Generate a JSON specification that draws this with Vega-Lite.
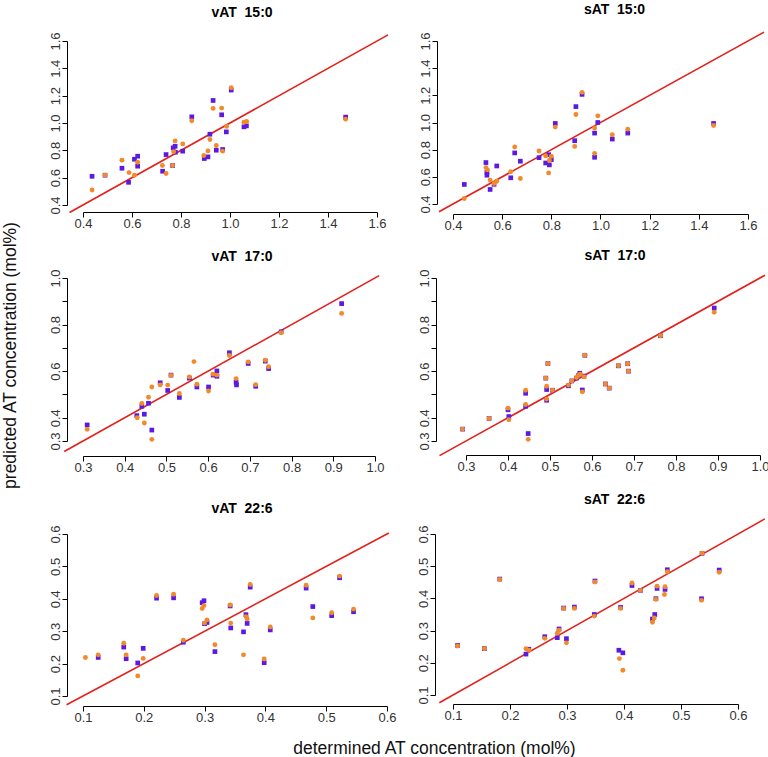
{
"$schema": "https://vega.github.io/schema/vega-lite/v6.json",
"padding": {"left": 0, "top": 2, "right": 5, "bottom": 5},
"background": "white",
"config": {
  "view": {"stroke": null},
  "axis": {"grid": false, "domainColor": "#000", "tickColor": "#000", "labelColor": "#333", "labelFont": "Liberation Sans", "labelFontSize": 13, "tickSize": 5, "labelPadding": 0, "domainWidth": 1, "tickWidth": 1, "titleFont": "Liberation Sans", "titleFontSize": 17.5, "titleFontWeight": "normal", "titleColor": "#111", "labelOverlap": false, "labelFlush": false},
  "title": {"font": "Liberation Sans", "fontSize": 14, "fontWeight": "bold", "color": "#000"}
},
"datasets": {
"pts": [
{"p":"v15","s":"A","x":0.437,"y":0.610},{"p":"v15","s":"A","x":0.490,"y":0.618},{"p":"v15","s":"A","x":0.559,"y":0.669},{"p":"v15","s":"A","x":0.586,"y":0.566},{"p":"v15","s":"A","x":0.610,"y":0.735},{"p":"v15","s":"A","x":0.623,"y":0.757},{"p":"v15","s":"A","x":0.623,"y":0.684},{"p":"v15","s":"A","x":0.725,"y":0.647},{"p":"v15","s":"A","x":0.739,"y":0.769},{"p":"v15","s":"A","x":0.766,"y":0.689},{"p":"v15","s":"A","x":0.768,"y":0.818},{"p":"v15","s":"A","x":0.776,"y":0.830},{"p":"v15","s":"A","x":0.777,"y":0.786},{"p":"v15","s":"A","x":0.807,"y":0.794},{"p":"v15","s":"A","x":0.844,"y":1.045},{"p":"v15","s":"A","x":0.895,"y":0.740},{"p":"v15","s":"A","x":0.910,"y":0.752},{"p":"v15","s":"A","x":0.918,"y":0.918},{"p":"v15","s":"A","x":0.931,"y":1.165},{"p":"v15","s":"A","x":0.944,"y":0.801},{"p":"v15","s":"A","x":0.966,"y":1.060},{"p":"v15","s":"A","x":0.970,"y":0.806},{"p":"v15","s":"A","x":0.985,"y":0.935},{"p":"v15","s":"A","x":1.005,"y":1.241},{"p":"v15","s":"A","x":1.057,"y":0.972},{"p":"v15","s":"A","x":1.067,"y":0.979},{"p":"v15","s":"A","x":1.472,"y":1.043},
{"p":"v15","s":"B","x":0.437,"y":0.510},{"p":"v15","s":"B","x":0.490,"y":0.618},{"p":"v15","s":"B","x":0.559,"y":0.728},{"p":"v15","s":"B","x":0.588,"y":0.637},{"p":"v15","s":"B","x":0.610,"y":0.618},{"p":"v15","s":"B","x":0.623,"y":0.713},{"p":"v15","s":"B","x":0.724,"y":0.689},{"p":"v15","s":"B","x":0.739,"y":0.630},{"p":"v15","s":"B","x":0.766,"y":0.689},{"p":"v15","s":"B","x":0.776,"y":0.869},{"p":"v15","s":"B","x":0.770,"y":0.790},{"p":"v15","s":"B","x":0.807,"y":0.847},{"p":"v15","s":"B","x":0.844,"y":1.016},{"p":"v15","s":"B","x":0.893,"y":0.762},{"p":"v15","s":"B","x":0.910,"y":0.796},{"p":"v15","s":"B","x":0.918,"y":0.879},{"p":"v15","s":"B","x":0.931,"y":1.107},{"p":"v15","s":"B","x":0.944,"y":0.835},{"p":"v15","s":"B","x":0.966,"y":1.109},{"p":"v15","s":"B","x":0.970,"y":0.794},{"p":"v15","s":"B","x":0.986,"y":0.975},{"p":"v15","s":"B","x":1.005,"y":1.258},{"p":"v15","s":"B","x":1.057,"y":1.006},{"p":"v15","s":"B","x":1.068,"y":1.011},{"p":"v15","s":"B","x":1.472,"y":1.028},
{"p":"s15","s":"A","x":0.446,"y":0.544},{"p":"s15","s":"A","x":0.534,"y":0.705},{"p":"s15","s":"A","x":0.538,"y":0.634},{"p":"s15","s":"A","x":0.538,"y":0.612},{"p":"s15","s":"A","x":0.551,"y":0.507},{"p":"s15","s":"A","x":0.567,"y":0.545},{"p":"s15","s":"A","x":0.578,"y":0.680},{"p":"s15","s":"A","x":0.635,"y":0.593},{"p":"s15","s":"A","x":0.651,"y":0.776},{"p":"s15","s":"A","x":0.674,"y":0.715},{"p":"s15","s":"A","x":0.750,"y":0.741},{"p":"s15","s":"A","x":0.777,"y":0.702},{"p":"s15","s":"A","x":0.789,"y":0.763},{"p":"s15","s":"A","x":0.792,"y":0.688},{"p":"s15","s":"A","x":0.800,"y":0.727},{"p":"s15","s":"A","x":0.816,"y":0.993},{"p":"s15","s":"A","x":0.895,"y":0.866},{"p":"s15","s":"A","x":0.900,"y":1.117},{"p":"s15","s":"A","x":0.925,"y":1.207},{"p":"s15","s":"A","x":0.976,"y":0.922},{"p":"s15","s":"A","x":0.976,"y":0.744},{"p":"s15","s":"A","x":0.989,"y":1.000},{"p":"s15","s":"A","x":1.048,"y":0.878},{"p":"s15","s":"A","x":1.111,"y":0.922},{"p":"s15","s":"A","x":1.460,"y":0.993},
{"p":"s15","s":"B","x":0.446,"y":0.441},{"p":"s15","s":"B","x":0.534,"y":0.668},{"p":"s15","s":"B","x":0.540,"y":0.651},{"p":"s15","s":"B","x":0.551,"y":0.576},{"p":"s15","s":"B","x":0.567,"y":0.551},{"p":"s15","s":"B","x":0.578,"y":0.568},{"p":"s15","s":"B","x":0.635,"y":0.637},{"p":"s15","s":"B","x":0.651,"y":0.820},{"p":"s15","s":"B","x":0.674,"y":0.588},{"p":"s15","s":"B","x":0.750,"y":0.790},{"p":"s15","s":"B","x":0.777,"y":0.754},{"p":"s15","s":"B","x":0.789,"y":0.629},{"p":"s15","s":"B","x":0.792,"y":0.720},{"p":"s15","s":"B","x":0.800,"y":0.751},{"p":"s15","s":"B","x":0.816,"y":0.966},{"p":"s15","s":"B","x":0.895,"y":0.824},{"p":"s15","s":"B","x":0.900,"y":1.059},{"p":"s15","s":"B","x":0.925,"y":1.222},{"p":"s15","s":"B","x":0.976,"y":0.959},{"p":"s15","s":"B","x":0.976,"y":0.773},{"p":"s15","s":"B","x":0.989,"y":1.049},{"p":"s15","s":"B","x":1.048,"y":0.910},{"p":"s15","s":"B","x":1.111,"y":0.951},{"p":"s15","s":"B","x":1.460,"y":0.978},
{"p":"v17","s":"A","x":0.310,"y":0.369},{"p":"v17","s":"A","x":0.429,"y":0.409},{"p":"v17","s":"A","x":0.441,"y":0.449},{"p":"v17","s":"A","x":0.447,"y":0.415},{"p":"v17","s":"A","x":0.457,"y":0.462},{"p":"v17","s":"A","x":0.465,"y":0.347},{"p":"v17","s":"A","x":0.485,"y":0.550},{"p":"v17","s":"A","x":0.503,"y":0.517},{"p":"v17","s":"A","x":0.511,"y":0.583},{"p":"v17","s":"A","x":0.531,"y":0.487},{"p":"v17","s":"A","x":0.555,"y":0.570},{"p":"v17","s":"A","x":0.573,"y":0.532},{"p":"v17","s":"A","x":0.601,"y":0.532},{"p":"v17","s":"A","x":0.612,"y":0.583},{"p":"v17","s":"A","x":0.621,"y":0.601},{"p":"v17","s":"A","x":0.621,"y":0.578},{"p":"v17","s":"A","x":0.651,"y":0.679},{"p":"v17","s":"A","x":0.667,"y":0.553},{"p":"v17","s":"A","x":0.668,"y":0.541},{"p":"v17","s":"A","x":0.696,"y":0.633},{"p":"v17","s":"A","x":0.714,"y":0.535},{"p":"v17","s":"A","x":0.737,"y":0.643},{"p":"v17","s":"A","x":0.745,"y":0.611},{"p":"v17","s":"A","x":0.775,"y":0.769},{"p":"v17","s":"A","x":0.920,"y":0.890},
{"p":"v17","s":"B","x":0.310,"y":0.350},{"p":"v17","s":"B","x":0.430,"y":0.400},{"p":"v17","s":"B","x":0.441,"y":0.461},{"p":"v17","s":"B","x":0.447,"y":0.377},{"p":"v17","s":"B","x":0.457,"y":0.488},{"p":"v17","s":"B","x":0.465,"y":0.307},{"p":"v17","s":"B","x":0.465,"y":0.532},{"p":"v17","s":"B","x":0.485,"y":0.541},{"p":"v17","s":"B","x":0.503,"y":0.540},{"p":"v17","s":"B","x":0.511,"y":0.581},{"p":"v17","s":"B","x":0.531,"y":0.504},{"p":"v17","s":"B","x":0.555,"y":0.575},{"p":"v17","s":"B","x":0.566,"y":0.641},{"p":"v17","s":"B","x":0.573,"y":0.544},{"p":"v17","s":"B","x":0.601,"y":0.515},{"p":"v17","s":"B","x":0.612,"y":0.587},{"p":"v17","s":"B","x":0.621,"y":0.583},{"p":"v17","s":"B","x":0.651,"y":0.667},{"p":"v17","s":"B","x":0.667,"y":0.568},{"p":"v17","s":"B","x":0.696,"y":0.640},{"p":"v17","s":"B","x":0.714,"y":0.542},{"p":"v17","s":"B","x":0.737,"y":0.647},{"p":"v17","s":"B","x":0.745,"y":0.619},{"p":"v17","s":"B","x":0.775,"y":0.765},{"p":"v17","s":"B","x":0.920,"y":0.848},
{"p":"s17","s":"A","x":0.292,"y":0.351},{"p":"s17","s":"A","x":0.355,"y":0.397},{"p":"s17","s":"A","x":0.400,"y":0.434},{"p":"s17","s":"A","x":0.402,"y":0.405},{"p":"s17","s":"A","x":0.442,"y":0.505},{"p":"s17","s":"A","x":0.442,"y":0.449},{"p":"s17","s":"A","x":0.448,"y":0.332},{"p":"s17","s":"A","x":0.490,"y":0.570},{"p":"s17","s":"A","x":0.492,"y":0.521},{"p":"s17","s":"A","x":0.492,"y":0.475},{"p":"s17","s":"A","x":0.495,"y":0.633},{"p":"s17","s":"A","x":0.506,"y":0.518},{"p":"s17","s":"A","x":0.544,"y":0.537},{"p":"s17","s":"A","x":0.552,"y":0.558},{"p":"s17","s":"A","x":0.563,"y":0.570},{"p":"s17","s":"A","x":0.568,"y":0.581},{"p":"s17","s":"A","x":0.571,"y":0.591},{"p":"s17","s":"A","x":0.577,"y":0.519},{"p":"s17","s":"A","x":0.581,"y":0.579},{"p":"s17","s":"A","x":0.583,"y":0.668},{"p":"s17","s":"A","x":0.632,"y":0.545},{"p":"s17","s":"A","x":0.641,"y":0.527},{"p":"s17","s":"A","x":0.663,"y":0.623},{"p":"s17","s":"A","x":0.685,"y":0.632},{"p":"s17","s":"A","x":0.687,"y":0.600},{"p":"s17","s":"A","x":0.763,"y":0.752},{"p":"s17","s":"A","x":0.891,"y":0.871},
{"p":"s17","s":"B","x":0.292,"y":0.351},{"p":"s17","s":"B","x":0.355,"y":0.397},{"p":"s17","s":"B","x":0.400,"y":0.441},{"p":"s17","s":"B","x":0.402,"y":0.391},{"p":"s17","s":"B","x":0.442,"y":0.518},{"p":"s17","s":"B","x":0.442,"y":0.457},{"p":"s17","s":"B","x":0.448,"y":0.307},{"p":"s17","s":"B","x":0.490,"y":0.570},{"p":"s17","s":"B","x":0.492,"y":0.535},{"p":"s17","s":"B","x":0.492,"y":0.480},{"p":"s17","s":"B","x":0.495,"y":0.633},{"p":"s17","s":"B","x":0.506,"y":0.518},{"p":"s17","s":"B","x":0.544,"y":0.540},{"p":"s17","s":"B","x":0.552,"y":0.558},{"p":"s17","s":"B","x":0.563,"y":0.573},{"p":"s17","s":"B","x":0.568,"y":0.581},{"p":"s17","s":"B","x":0.572,"y":0.587},{"p":"s17","s":"B","x":0.577,"y":0.511},{"p":"s17","s":"B","x":0.581,"y":0.576},{"p":"s17","s":"B","x":0.583,"y":0.668},{"p":"s17","s":"B","x":0.632,"y":0.545},{"p":"s17","s":"B","x":0.641,"y":0.527},{"p":"s17","s":"B","x":0.663,"y":0.623},{"p":"s17","s":"B","x":0.685,"y":0.632},{"p":"s17","s":"B","x":0.687,"y":0.600},{"p":"s17","s":"B","x":0.763,"y":0.752},{"p":"s17","s":"B","x":0.891,"y":0.853},
{"p":"v22","s":"A","x":0.125,"y":0.219},{"p":"v22","s":"A","x":0.167,"y":0.251},{"p":"v22","s":"A","x":0.171,"y":0.215},{"p":"v22","s":"A","x":0.190,"y":0.202},{"p":"v22","s":"A","x":0.199,"y":0.247},{"p":"v22","s":"A","x":0.221,"y":0.402},{"p":"v22","s":"A","x":0.249,"y":0.403},{"p":"v22","s":"A","x":0.265,"y":0.266},{"p":"v22","s":"A","x":0.296,"y":0.388},{"p":"v22","s":"A","x":0.299,"y":0.394},{"p":"v22","s":"A","x":0.300,"y":0.323},{"p":"v22","s":"A","x":0.304,"y":0.327},{"p":"v22","s":"A","x":0.317,"y":0.237},{"p":"v22","s":"A","x":0.342,"y":0.378},{"p":"v22","s":"A","x":0.343,"y":0.310},{"p":"v22","s":"A","x":0.364,"y":0.298},{"p":"v22","s":"A","x":0.368,"y":0.351},{"p":"v22","s":"A","x":0.370,"y":0.324},{"p":"v22","s":"A","x":0.375,"y":0.436},{"p":"v22","s":"A","x":0.398,"y":0.203},{"p":"v22","s":"A","x":0.408,"y":0.304},{"p":"v22","s":"A","x":0.467,"y":0.433},{"p":"v22","s":"A","x":0.478,"y":0.376},{"p":"v22","s":"A","x":0.509,"y":0.348},{"p":"v22","s":"A","x":0.522,"y":0.465},{"p":"v22","s":"A","x":0.545,"y":0.360},
{"p":"v22","s":"B","x":0.104,"y":0.219},{"p":"v22","s":"B","x":0.125,"y":0.227},{"p":"v22","s":"B","x":0.167,"y":0.263},{"p":"v22","s":"B","x":0.171,"y":0.227},{"p":"v22","s":"B","x":0.190,"y":0.162},{"p":"v22","s":"B","x":0.199,"y":0.216},{"p":"v22","s":"B","x":0.221,"y":0.410},{"p":"v22","s":"B","x":0.249,"y":0.414},{"p":"v22","s":"B","x":0.265,"y":0.272},{"p":"v22","s":"B","x":0.296,"y":0.370},{"p":"v22","s":"B","x":0.299,"y":0.379},{"p":"v22","s":"B","x":0.300,"y":0.325},{"p":"v22","s":"B","x":0.304,"y":0.335},{"p":"v22","s":"B","x":0.317,"y":0.258},{"p":"v22","s":"B","x":0.342,"y":0.381},{"p":"v22","s":"B","x":0.343,"y":0.325},{"p":"v22","s":"B","x":0.364,"y":0.227},{"p":"v22","s":"B","x":0.368,"y":0.345},{"p":"v22","s":"B","x":0.370,"y":0.338},{"p":"v22","s":"B","x":0.375,"y":0.444},{"p":"v22","s":"B","x":0.398,"y":0.214},{"p":"v22","s":"B","x":0.408,"y":0.313},{"p":"v22","s":"B","x":0.467,"y":0.442},{"p":"v22","s":"B","x":0.478,"y":0.341},{"p":"v22","s":"B","x":0.509,"y":0.357},{"p":"v22","s":"B","x":0.522,"y":0.470},{"p":"v22","s":"B","x":0.545,"y":0.368},
{"p":"s22","s":"A","x":0.108,"y":0.254},{"p":"s22","s":"A","x":0.155,"y":0.244},{"p":"s22","s":"A","x":0.182,"y":0.460},{"p":"s22","s":"A","x":0.228,"y":0.227},{"p":"s22","s":"A","x":0.233,"y":0.242},{"p":"s22","s":"A","x":0.261,"y":0.281},{"p":"s22","s":"A","x":0.283,"y":0.278},{"p":"s22","s":"A","x":0.286,"y":0.305},{"p":"s22","s":"A","x":0.294,"y":0.370},{"p":"s22","s":"A","x":0.299,"y":0.275},{"p":"s22","s":"A","x":0.313,"y":0.373},{"p":"s22","s":"A","x":0.348,"y":0.350},{"p":"s22","s":"A","x":0.349,"y":0.454},{"p":"s22","s":"A","x":0.394,"y":0.372},{"p":"s22","s":"A","x":0.391,"y":0.239},{"p":"s22","s":"A","x":0.398,"y":0.231},{"p":"s22","s":"A","x":0.414,"y":0.440},{"p":"s22","s":"A","x":0.429,"y":0.425},{"p":"s22","s":"A","x":0.450,"y":0.336},{"p":"s22","s":"A","x":0.454,"y":0.350},{"p":"s22","s":"A","x":0.456,"y":0.399},{"p":"s22","s":"A","x":0.458,"y":0.431},{"p":"s22","s":"A","x":0.472,"y":0.428},{"p":"s22","s":"A","x":0.476,"y":0.489},{"p":"s22","s":"A","x":0.536,"y":0.399},{"p":"s22","s":"A","x":0.537,"y":0.540},{"p":"s22","s":"A","x":0.567,"y":0.488},
{"p":"s22","s":"B","x":0.108,"y":0.252},{"p":"s22","s":"B","x":0.155,"y":0.244},{"p":"s22","s":"B","x":0.182,"y":0.459},{"p":"s22","s":"B","x":0.228,"y":0.244},{"p":"s22","s":"B","x":0.233,"y":0.239},{"p":"s22","s":"B","x":0.261,"y":0.276},{"p":"s22","s":"B","x":0.283,"y":0.292},{"p":"s22","s":"B","x":0.286,"y":0.301},{"p":"s22","s":"B","x":0.294,"y":0.369},{"p":"s22","s":"B","x":0.299,"y":0.262},{"p":"s22","s":"B","x":0.313,"y":0.369},{"p":"s22","s":"B","x":0.348,"y":0.345},{"p":"s22","s":"B","x":0.349,"y":0.451},{"p":"s22","s":"B","x":0.394,"y":0.369},{"p":"s22","s":"B","x":0.392,"y":0.213},{"p":"s22","s":"B","x":0.398,"y":0.177},{"p":"s22","s":"B","x":0.414,"y":0.448},{"p":"s22","s":"B","x":0.429,"y":0.425},{"p":"s22","s":"B","x":0.450,"y":0.326},{"p":"s22","s":"B","x":0.453,"y":0.339},{"p":"s22","s":"B","x":0.456,"y":0.397},{"p":"s22","s":"B","x":0.458,"y":0.438},{"p":"s22","s":"B","x":0.471,"y":0.412},{"p":"s22","s":"B","x":0.472,"y":0.436},{"p":"s22","s":"B","x":0.476,"y":0.483},{"p":"s22","s":"B","x":0.536,"y":0.394},{"p":"s22","s":"B","x":0.537,"y":0.540},{"p":"s22","s":"B","x":0.567,"y":0.481}
]
},
"spacing": -12,
"vconcat": [
{
 "bounds": "flush",
 "spacing": 76,
 "hconcat": [
  {
   "width": 294, "height": 164,
   "title": {"text": "vAT\u00a0 15:0", "offset": 12, "dx": 12},
   "encoding": {
     "x": {"field": "x", "type": "quantitative", "scale": {"domain": [0.4, 1.6], "nice": false, "zero": false}, "axis": {"values": [0.4, 0.6, 0.8, 1.0, 1.2, 1.4, 1.6], "format": ".1f", "title": null, "offset": 7}},
     "y": {"field": "y", "type": "quantitative", "scale": {"domain": [0.4, 1.6], "nice": false, "zero": false}, "axis": {"values": [0.4, 0.6, 0.8, 1.0, 1.2, 1.4, 1.6], "format": ".1f", "title": null, "offset": 16, "labelAngle": -90, "labelAlign": "center", "labelBaseline": "bottom"}}
   },
   "layer": [
    {"data": {"values": [{"x": 0.345, "y": 0.345}, {"x": 1.645, "y": 1.645}]}, "mark": {"type": "line", "color": "#e3201b", "strokeWidth": 1.6}, "encoding": {}},
    {"data": {"name": "pts"}, "transform": [{"filter": "datum.p == 'v15' && datum.s == 'A'"}], "mark": {"type": "square", "filled": true, "size": 22, "color": "#5a1ae2", "opacity": 1}, "encoding": {}},
    {"data": {"name": "pts"}, "transform": [{"filter": "datum.p == 'v15' && datum.s == 'B'"}], "mark": {"type": "circle", "size": 24, "color": "#f28a2a", "opacity": 1}, "encoding": {}}
   ]
  },
  {
   "width": 295, "height": 163,
   "title": {"text": "sAT\u00a0 15:0", "offset": 12, "dx": 14},
   "encoding": {
     "x": {"field": "x", "type": "quantitative", "scale": {"domain": [0.4, 1.6], "nice": false, "zero": false}, "axis": {"values": [0.4, 0.6, 0.8, 1.0, 1.2, 1.4, 1.6], "format": ".1f", "title": null, "offset": 10}},
     "y": {"field": "y", "type": "quantitative", "scale": {"domain": [0.4, 1.6], "nice": false, "zero": false}, "axis": {"values": [0.4, 0.6, 0.8, 1.0, 1.2, 1.4, 1.6], "format": ".1f", "title": null, "offset": 16, "labelAngle": -90, "labelAlign": "center", "labelBaseline": "bottom"}}
   },
   "layer": [
    {"data": {"values": [{"x": 0.343, "y": 0.343}, {"x": 1.665, "y": 1.665}]}, "mark": {"type": "line", "color": "#e3201b", "strokeWidth": 1.6}, "encoding": {}},
    {"data": {"name": "pts"}, "transform": [{"filter": "datum.p == 's15' && datum.s == 'A'"}], "mark": {"type": "square", "filled": true, "size": 22, "color": "#5a1ae2", "opacity": 1}, "encoding": {}},
    {"data": {"name": "pts"}, "transform": [{"filter": "datum.p == 's15' && datum.s == 'B'"}], "mark": {"type": "circle", "size": 24, "color": "#f28a2a", "opacity": 1}, "encoding": {}}
   ]
  }
 ]
},
{
 "spacing": 2,
 "vconcat": [
  {
   "bounds": "flush",
   "spacing": 91,
   "hconcat": [
    {
     "width": 292, "height": 163,
     "title": {"text": "vAT\u00a0 17:0", "offset": -43, "dx": 13},
     "encoding": {
       "x": {"field": "x", "type": "quantitative", "scale": {"domain": [0.3, 1.0], "nice": false, "zero": false}, "axis": {"values": [0.3, 0.4, 0.5, 0.6, 0.7, 0.8, 0.9, 1.0], "format": ".1f", "title": null, "offset": 15}},
       "y": {"field": "y", "type": "quantitative", "scale": {"domain": [0.3, 1.0], "nice": false, "zero": false}, "axis": {"values": [0.3, 0.4, 0.5, 0.6, 0.7, 0.8, 0.9, 1.0], "format": ".1f", "labelExpr": "indexof(['0.3','0.4','0.6','0.8','1.0'], datum.label) >= 0 ? datum.label : ''", "offset": 16, "labelAngle": -90, "labelAlign": "center", "labelBaseline": "bottom", "title": "predicted AT concentration (mol%)", "titleAngle": -90, "titleX": -57, "titleY": 77, "titleAlign": "center", "titleBaseline": "middle"}}
     },
     "layer": [
      {"data": {"values": [{"x": 0.255, "y": 0.255}, {"x": 1.01, "y": 1.01}]}, "mark": {"type": "line", "color": "#e3201b", "strokeWidth": 1.6}, "encoding": {}},
      {"data": {"name": "pts"}, "transform": [{"filter": "datum.p == 'v17' && datum.s == 'A'"}], "mark": {"type": "square", "filled": true, "size": 22, "color": "#5a1ae2", "opacity": 1}, "encoding": {}},
      {"data": {"name": "pts"}, "transform": [{"filter": "datum.p == 'v17' && datum.s == 'B'"}], "mark": {"type": "circle", "size": 24, "color": "#f28a2a", "opacity": 1}, "encoding": {}}
     ]
    },
    {
     "width": 294, "height": 163,
     "title": {"text": "sAT\u00a0 17:0", "offset": 6, "dx": 2},
     "encoding": {
       "x": {"field": "x", "type": "quantitative", "scale": {"domain": [0.3, 1.0], "nice": false, "zero": false}, "axis": {"values": [0.3, 0.4, 0.5, 0.6, 0.7, 0.8, 0.9, 1.0], "format": ".1f", "title": null, "offset": 14}},
       "y": {"field": "y", "type": "quantitative", "scale": {"domain": [0.3, 1.0], "nice": false, "zero": false}, "axis": {"values": [0.3, 0.4, 0.5, 0.6, 0.7, 0.8, 0.9, 1.0], "format": ".1f", "labelExpr": "indexof(['0.3','0.4','0.6','0.8','1.0'], datum.label) >= 0 ? datum.label : ''", "title": null, "offset": 30, "labelAngle": -90, "labelAlign": "center", "labelBaseline": "bottom"}}
     },
     "layer": [
      {"data": {"values": [{"x": 0.237, "y": 0.237}, {"x": 1.012, "y": 1.012}]}, "mark": {"type": "line", "color": "#e3201b", "strokeWidth": 1.6}, "encoding": {}},
      {"data": {"name": "pts"}, "transform": [{"filter": "datum.p == 's17' && datum.s == 'A'"}], "mark": {"type": "square", "filled": true, "size": 22, "color": "#5a1ae2", "opacity": 1}, "encoding": {}},
      {"data": {"name": "pts"}, "transform": [{"filter": "datum.p == 's17' && datum.s == 'B'"}], "mark": {"type": "circle", "size": 24, "color": "#f28a2a", "opacity": 1}, "encoding": {}}
     ]
    }
   ]
  },
  {
   "bounds": "flush",
   "spacing": 66,
   "hconcat": [
    {
     "width": 304, "height": 162,
     "title": {"text": "vAT\u00a0 22:6", "offset": 9, "dx": 7},
     "encoding": {
       "x": {"field": "x", "type": "quantitative", "scale": {"domain": [0.1, 0.6], "nice": false, "zero": false}, "axis": {"values": [0.1, 0.2, 0.3, 0.4, 0.5, 0.6], "format": ".1f", "offset": 10, "title": "determined AT concentration (mol%)", "titleX": 351, "titleY": 42, "titleAlign": "center", "titleBaseline": "middle"}},
       "y": {"field": "y", "type": "quantitative", "scale": {"domain": [0.1, 0.6], "nice": false, "zero": false}, "axis": {"values": [0.1, 0.2, 0.3, 0.4, 0.5, 0.6], "format": ".1f", "title": null, "offset": 16, "labelAngle": -90, "labelAlign": "center", "labelBaseline": "bottom"}}
     },
     "layer": [
      {"data": {"values": [{"x": 0.073, "y": 0.073}, {"x": 0.603, "y": 0.603}]}, "mark": {"type": "line", "color": "#e3201b", "strokeWidth": 1.6}, "encoding": {}},
      {"data": {"name": "pts"}, "transform": [{"filter": "datum.p == 'v22' && datum.s == 'A'"}], "mark": {"type": "square", "filled": true, "size": 22, "color": "#5a1ae2", "opacity": 1}, "encoding": {}},
      {"data": {"name": "pts"}, "transform": [{"filter": "datum.p == 'v22' && datum.s == 'B'"}], "mark": {"type": "circle", "size": 24, "color": "#f28a2a", "opacity": 1}, "encoding": {}}
     ]
    },
    {
     "width": 285, "height": 161,
     "title": {"text": "sAT\u00a0 22:6", "offset": 9, "dx": 19},
     "encoding": {
       "x": {"field": "x", "type": "quantitative", "scale": {"domain": [0.1, 0.6], "nice": false, "zero": false}, "axis": {"values": [0.1, 0.2, 0.3, 0.4, 0.5, 0.6], "format": ".1f", "title": null, "offset": 9}},
       "y": {"field": "y", "type": "quantitative", "scale": {"domain": [0.1, 0.6], "nice": false, "zero": false}, "axis": {"values": [0.1, 0.2, 0.3, 0.4, 0.5, 0.6], "format": ".1f", "title": null, "offset": 18, "labelAngle": -90, "labelAlign": "center", "labelBaseline": "bottom"}}
     },
     "layer": [
      {"data": {"values": [{"x": 0.076, "y": 0.076}, {"x": 0.647, "y": 0.647}]}, "mark": {"type": "line", "color": "#e3201b", "strokeWidth": 1.6}, "encoding": {}},
      {"data": {"name": "pts"}, "transform": [{"filter": "datum.p == 's22' && datum.s == 'A'"}], "mark": {"type": "square", "filled": true, "size": 22, "color": "#5a1ae2", "opacity": 1}, "encoding": {}},
      {"data": {"name": "pts"}, "transform": [{"filter": "datum.p == 's22' && datum.s == 'B'"}], "mark": {"type": "circle", "size": 24, "color": "#f28a2a", "opacity": 1}, "encoding": {}}
     ]
    }
   ]
  }
 ]
}
]
}
